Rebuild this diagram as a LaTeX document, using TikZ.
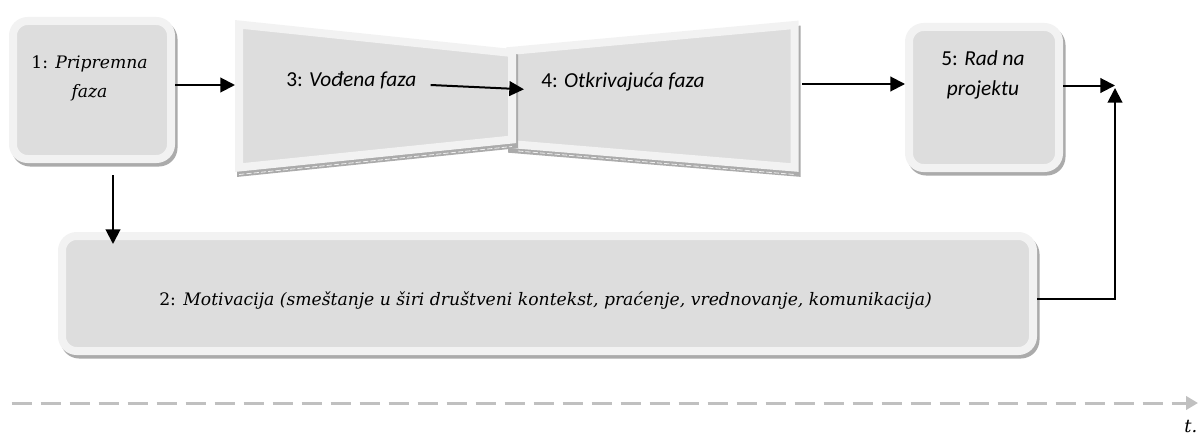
\documentclass[tikz,border=0pt]{standalone}
\usepackage{fontspec}
\setmainfont{DejaVu Serif}
\newfontfamily\calfont{Carlito}
\usetikzlibrary{arrows.meta,calc}
\definecolor{rim}{HTML}{F2F2F2}
\definecolor{face}{HTML}{DDDDDD}
\definecolor{shade}{HTML}{ABABAB}
\definecolor{axisgray}{HTML}{C0C0C0}
\begin{document}
\begin{tikzpicture}[x=0.75pt,y=-0.75pt,
  panel/.style={fill=face, draw=rim, line width=6pt, rounded corners=11pt,
    inner sep=0pt, outer sep=3pt,
    preaction={fill=shade, draw=shade, line width=6pt,
      transform canvas={shift={(2.5,3.5)}}}},
  facet/.style={fill=face, draw=rim, line width=6pt, line join=miter,
    preaction={fill=shade, draw=shade, line width=6pt, line join=miter,
      transform canvas={shift={(2,5)}}}},
  gloss/.style={draw=white, line width=0.6pt, dash pattern=on 4pt off 1.5pt, opacity=0.8},
  serifsf/.style={font=\fontsize{12.9}{21.75}\selectfont, inner sep=0pt, align=center},
  calsf/.style={font=\calfont\fontsize{16}{22.5}\selectfont, inner sep=0pt, align=center},
  arr/.style={line width=1.5pt, -{Triangle[length=11pt,width=11pt]}},
  timeline/.style={draw=axisgray, line width=2.25pt, dash pattern=on 15pt off 6.75pt,
    -{Triangle[length=9pt,width=10pt]}}
]
\useasboundingbox (0,0) rectangle (1198,435);

% rounded panels
\node[panel, minimum width=118.5pt, minimum height=103.5pt] (b1) at (92,90) {};
\node[panel, minimum width=112.5pt, minimum height=105.75pt] (b5) at (984,97.5) {};
\node[panel, minimum width=728.25pt, minimum height=86.25pt] (b2) at (547.5,293.5) {};

% the two funnel facets (the right one lies underneath)
\coordinate (q4a) at (510,51);
\coordinate (q4b) at (794.5,25);
\coordinate (q4c) at (794.5,167.5);
\coordinate (q4d) at (510,144);
\path[facet] (q4a) -- (q4b) -- (q4c) -- (q4d) -- cycle;
\draw[gloss] ([shift={(8,7)}]q4d) -- ([shift={(0,7)}]q4c);

\coordinate (q3a) at (239,24.5);
\coordinate (q3b) at (512,53);
\coordinate (q3c) at (512,139.5);
\coordinate (q3d) at (239,167.5);
\path[facet] (q3a) -- (q3b) -- (q3c) -- (q3d) -- cycle;
\draw[gloss] ([shift={(0,7)}]q3d) -- ([shift={(0,7)}]q3c);

% labels
\node[serifsf, anchor=north] (t1) at (89.5,55.5) {1: \textit{Pripremna}\\\textit{faza}};
\node[calsf, anchor=base west] (t3) at (286,86) {3: \textit{Vođena faza}};
\node[calsf, anchor=base west] (t4) at (541,87) {4: \textit{Otkrivajuća faza}};
\node[calsf, anchor=north] (t5) at (983,50) {5: \textit{Rad na}\\\textit{projektu}};
\node[serifsf, anchor=base] (t2) at (545.5,305)
  {2: \textit{Motivacija (smeštanje u širi društveni kontekst, praćenje, vrednovanje, komunikacija)}};

% connectors
\coordinate (c3w) at (235,85);
\coordinate (c4in) at (524,89.3);
\coordinate (c4e) at (802,84);
\coordinate (corner) at (1115,85.5);
\coordinate (cup) at (1115,88);

\draw[arr] (b1.east |- c3w) -- (c3w);
\draw[arr] ([shift={(14,-1)}]t3.base east) -- (c4in);
\draw[arr] (c4e) -- (b5.west |- c4e);
\draw[arr] (b5.east |- corner) -- (corner);
\draw[arr] ([shift={(21,12)}]b1.south) -- ([shift={(21,12)}]b1.south |- b2.north);
\draw[arr] ([shift={(0,5.5)}]b2.east) -| (cup);

% time axis
\coordinate (ts) at (11.5,403);
\coordinate (te) at (1198,403);
\draw[timeline] (ts) -- (te);
\node[font=\fontsize{13.5}{15}\selectfont\itshape, inner sep=0pt, anchor=base west] (tt) at (1184,432) {t.};
\end{tikzpicture}
\end{document}
